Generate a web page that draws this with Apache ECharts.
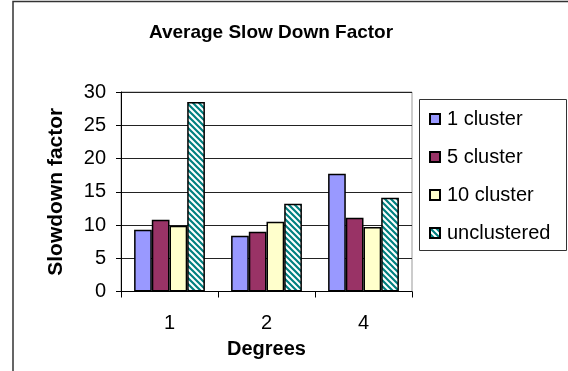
<!DOCTYPE html>
<html>
<head>
<meta charset="utf-8">
<script src="https://cdn.jsdelivr.net/npm/echarts@6/dist/echarts.min.js"></script>
<style>html,body{margin:0;padding:0;background:#fff;}#c{width:568px;height:371px;}</style>
</head>
<body>
<div id="c"></div>
<script>
const categories = ['1', '2', '4'];
const seriesNames = ['1 cluster', '5 cluster', '10 cluster', 'unclustered'];
const cluster1 = [9.3, 8.4, 17.7];
const cluster5 = [10.8, 9.0, 11.1];
const cluster10 = [9.9, 10.5, 9.7];
const unclustered = [28.5, 13.2, 14.1];
const yTicks = [0, 5, 10, 15, 20, 25, 30];

function hatch() {
  const s = 6;
  const cv = document.createElement('canvas');
  cv.width = s; cv.height = s;
  const g = cv.getContext('2d');
  g.fillStyle = '#ffffff';
  g.fillRect(0, 0, s, s);
  g.strokeStyle = '#008080';
  g.lineWidth = 2.2;
  g.beginPath();
  for (let k = -1; k <= 1; k++) {
    g.moveTo(k * s - 1, -1);
    g.lineTo(k * s + s + 1, s + 1);
  }
  g.stroke();
  return cv;
}

const font = 'Liberation Sans, Arial, sans-serif';
const fills = ['#9999FF', '#993366', '#FFFFCC', {image: hatch(), repeat: 'repeat'}];
const values = [cluster1, cluster5, cluster10, unclustered];

const chart = echarts.init(document.getElementById('c'), null, {renderer: 'canvas'});
chart.setOption({
  animation: false,
  backgroundColor: '#fff',
  title: {
    text: 'Average Slow Down Factor',
    left: 266, top: 18, textAlign: 'center',
    textStyle: {fontFamily: font, fontSize: 19, fontWeight: 'bold', color: '#000'}
  },
  graphic: [
    {type: 'rect', shape: {x: 13, y: 1.5, width: 600, height: 400}, style: {fill: 'none', stroke: '#333', lineWidth: 1.5}, silent: true},
    {type: 'rect', shape: {x: 419.5, y: 99.5, width: 147, height: 151}, style: {fill: '#fff', stroke: '#333', lineWidth: 1}, silent: true, z: 5}
  ],
  legend: {
    orient: 'vertical', left: 424, top: 104,
    itemWidth: 10, itemHeight: 10, itemGap: 18, icon: 'rect',
    z: 10,
    textStyle: {fontFamily: font, fontSize: 20, color: '#000', lineHeight: 20, padding: [0, 0, 0, 2]},
    data: seriesNames
  },
  grid: {left: 121, right: 156, top: 92, bottom: 79.5, show: true, borderColor: '#999', borderWidth: 1, backgroundColor: '#fff'},
  xAxis: {
    type: 'category', data: categories,
    name: 'Degrees', nameLocation: 'middle', nameGap: 48,
    nameTextStyle: {fontFamily: font, fontSize: 20, fontWeight: 'bold', color: '#000'},
    axisLine: {lineStyle: {color: '#000', width: 1}},
    axisTick: {show: true, length: 6, lineStyle: {color: '#000'}},
    axisLabel: {fontFamily: font, fontSize: 20, color: '#000', margin: 22}
  },
  yAxis: {
    type: 'value', min: 0, max: 30, interval: 5,
    name: 'Slowdown factor', nameLocation: 'middle', nameGap: 54,
    nameTextStyle: {fontFamily: font, fontSize: 21, fontWeight: 'bold', color: '#000'},
    axisLine: {show: true, lineStyle: {color: '#000', width: 1}},
    axisTick: {show: true, length: 5, lineStyle: {color: '#000'}},
    axisLabel: {fontFamily: font, fontSize: 20, color: '#000', margin: 15,
      formatter: v => yTicks.includes(v) ? String(v) : ''},
    splitLine: {show: true, lineStyle: {color: '#222', width: 1}}
  },
  series: seriesNames.map((n, i) => ({
    name: n, type: 'bar', data: values[i],
    barGap: '0%', barCategoryGap: '27%',
    itemStyle: {color: fills[i], borderColor: '#000', borderWidth: 1.5}
  }))
});
</script>
</body>
</html>
